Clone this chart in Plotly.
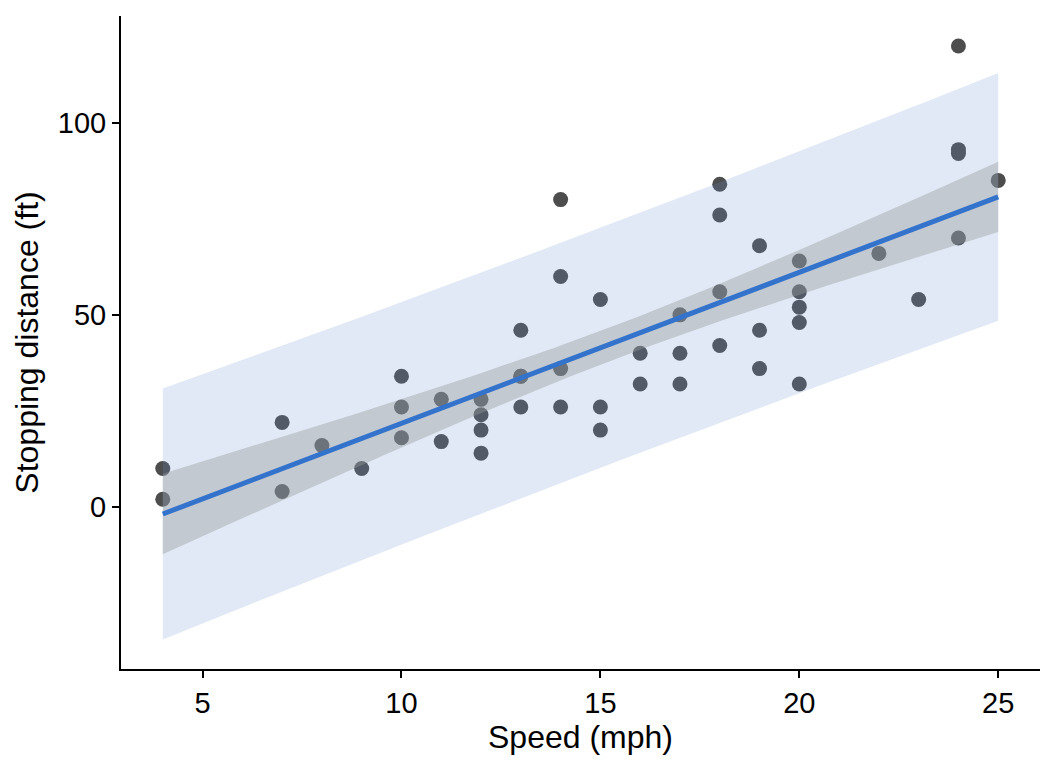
import numpy as np
import plotly.graph_objects as go

# cars dataset (speed in mph, stopping distance in ft)
speed = [4, 4, 7, 7, 8, 9, 10, 10, 10, 11, 11, 12, 12, 12, 12, 13, 13, 13, 13, 14,
         14, 14, 14, 15, 15, 15, 16, 16, 17, 17, 17, 18, 18, 18, 18, 19, 19, 19, 20, 20,
         20, 20, 20, 22, 23, 24, 24, 24, 24, 25]
dist = [2, 10, 4, 22, 16, 10, 18, 26, 34, 17, 28, 14, 20, 24, 28, 26, 34, 34, 46, 26,
        36, 60, 80, 20, 26, 54, 32, 40, 32, 40, 50, 42, 56, 76, 84, 36, 46, 68, 32, 48,
        52, 56, 64, 66, 54, 70, 92, 93, 120, 85]
x_ticks = [5, 10, 15, 20, 25]
y_ticks = [0, 50, 100]

# linear model fit (as geom_smooth(method="lm") + prediction interval)
x = np.array(speed, dtype=float)
y = np.array(dist, dtype=float)
n = len(x)
b1, b0 = np.polyfit(x, y, 1)
resid = y - (b0 + b1 * x)
sigma = np.sqrt(np.sum(resid ** 2) / (n - 2))
sxx = np.sum((x - x.mean()) ** 2)
t_val = 2.010635  # t quantile 0.975, df = 48
grid = np.linspace(x.min(), x.max(), 80)
fit = b0 + b1 * grid
se_fit = sigma * np.sqrt(1 / n + (grid - x.mean()) ** 2 / sxx)
se_pred = sigma * np.sqrt(1 + 1 / n + (grid - x.mean()) ** 2 / sxx)
ci_lo, ci_hi = fit - t_val * se_fit, fit + t_val * se_fit
pi_lo, pi_hi = fit - t_val * se_pred, fit + t_val * se_pred

FONT = "Liberation Sans, Arial"

fig = go.Figure()
fig.add_trace(go.Scatter(x=speed, y=dist, mode="markers",
                         marker=dict(size=15, color="#4D4D4D", line=dict(width=0)),
                         showlegend=False, hoverinfo="skip"))
fig.add_trace(go.Scatter(x=np.concatenate([grid, grid[::-1]]),
                         y=np.concatenate([pi_hi, pi_lo[::-1]]),
                         fill="toself", fillcolor="rgba(100,145,205,0.2)",
                         line=dict(width=0), mode="lines", showlegend=False, hoverinfo="skip"))
fig.add_trace(go.Scatter(x=np.concatenate([grid, grid[::-1]]),
                         y=np.concatenate([ci_hi, ci_lo[::-1]]),
                         fill="toself", fillcolor="rgba(153,153,153,0.4)",
                         line=dict(width=0), mode="lines", showlegend=False, hoverinfo="skip"))
fig.add_trace(go.Scatter(x=grid, y=fit, mode="lines",
                         line=dict(color="#3373CC", width=5),
                         showlegend=False, hoverinfo="skip"))

axis_common = dict(showgrid=False, zeroline=False, showline=True, linecolor="black",
                   linewidth=2, ticks="outside", ticklen=7, tickwidth=2, tickcolor="black",
                   tickfont=dict(family=FONT, size=29, color="black"))
fig.update_xaxes(range=[2.95, 26.05], tickvals=x_ticks,
                 title=dict(text="Speed (mph)", font=dict(family=FONT, size=32, color="black"), standoff=4),
                 **axis_common)
fig.update_yaxes(range=[-42.2, 127.8], tickvals=y_ticks,
                 title=dict(text="Stopping distance (ft)", font=dict(family=FONT, size=32, color="black"), standoff=10),
                 **axis_common)
fig.update_layout(width=1056, height=768, plot_bgcolor="white", paper_bgcolor="white",
                  margin=dict(l=121, r=16, t=16, b=99))
fig.write_html("out.html")
